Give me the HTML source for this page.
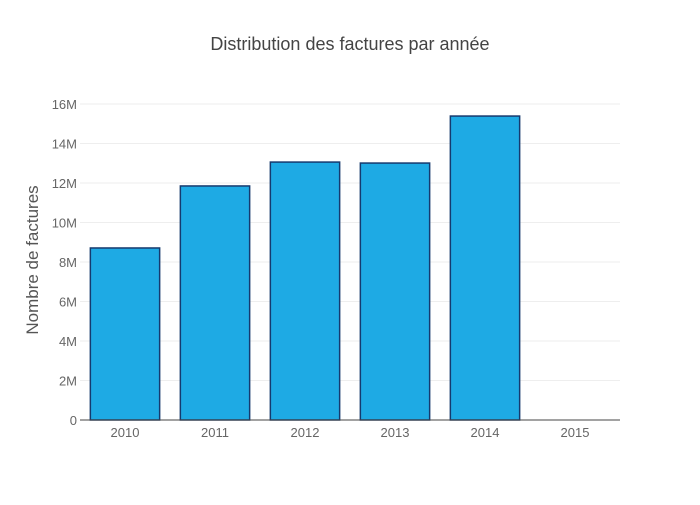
<!DOCTYPE html>
<html><head><meta charset="utf-8"><style>
body{margin:0;background:#fff;}
svg{font-family:"Liberation Sans",sans-serif;}
</style></head><body>
<svg id="chart" width="700" height="500">
<text x="350" y="50" text-anchor="middle" font-size="18" fill="#444">Distribution des factures par année</text>
<text transform="translate(38,260) rotate(-90)" text-anchor="middle" font-size="17" fill="#555">Nombre de factures</text>
<g id="grid"></g><g id="bars"></g><g id="axes"></g>
</svg>
<script>
const categories = ["2010","2011","2012","2013","2014","2015"];
const values = [8.71, 11.85, 13.06, 13.01, 15.39, 0];
const yTicks = [0,2,4,6,8,10,12,14,16];
const yTickLabels = ["0","2M","4M","6M","8M","10M","12M","14M","16M"];
const NS="http://www.w3.org/2000/svg";
const x0=80,x1=620,yBase=420,yTop=104,yMax=16;
const y=v=>yBase-(v/yMax)*(yBase-yTop);
const band=(x1-x0)/categories.length;
const xc=i=>x0+band*(i+0.5);
function mk(tag,attrs,parent){const e=document.createElementNS(NS,tag);for(const k in attrs)e.setAttribute(k,attrs[k]);parent.appendChild(e);return e;}
const grid=document.getElementById('grid'),bars=document.getElementById('bars'),axes=document.getElementById('axes');
yTicks.forEach((t,i)=>{
  if(t>0){const l=mk('line',{x1:x0,x2:x1,y1:y(t),y2:y(t),stroke:'#eee','stroke-width':1},grid);
  
  }
  const tx=mk('text',{x:x0-3,y:y(t)+5,'text-anchor':'end','font-size':13,fill:'#666'},axes);
  tx.textContent=yTickLabels[i];
  
  
});
categories.forEach((c,i)=>{
  const w=band*0.77;
  const r=mk('rect',{x:xc(i)-w/2,y:y(values[i]),width:w,height:Math.max(0,yBase-y(values[i])),fill:'#1eaae4',stroke:'#163a6e','stroke-width':1.5},bars);
  
  
  const tx=mk('text',{x:xc(i),y:yBase+17,'text-anchor':'middle','font-size':13,fill:'#666'},axes);
  tx.textContent=c;
  
  
});
const ax=mk('line',{x1:x0,x2:x1,y1:yBase,y2:yBase,stroke:'#444','stroke-width':1},axes);


</script>
</body></html>
